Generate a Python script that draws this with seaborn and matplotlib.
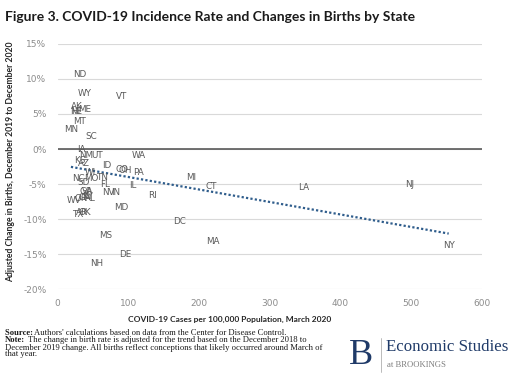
import matplotlib
matplotlib.use("Agg")
import matplotlib.pyplot as plt
import seaborn as sns
import numpy as np
import pandas as pd
from matplotlib.ticker import FuncFormatter

states = ["ND", "WY", "VT", "AK", "ME", "NE", "HI", "MT", "MN", "SC",
          "IA", "NM", "UT", "WA", "KS", "AZ", "ID", "CO", "OH", "PA",
          "WI", "NC", "MO", "TN", "SD", "FL", "IL", "GA", "VA", "NV",
          "IN", "RI", "WV", "OR", "CA", "KY", "AL", "TX", "AR", "OK",
          "MD", "MS", "DC", "MA", "DE", "NH", "MI", "CT", "LA", "NJ", "NY"]
cases = [31.5, 38.5, 91, 27.7, 38.5, 26, 25, 31.5, 18.8, 47,
         34, 40.5, 56.5, 115, 31.5, 37, 69, 91, 95, 114,
         45.6, 30, 48, 62, 37, 67, 106, 40, 43, 71.5,
         82, 134, 23, 33, 38, 43, 47, 28.3, 34, 38.5,
         90.4, 67.8, 172.7, 219.8, 96, 55, 189, 217.5, 348, 497.6, 553]
births = [10.7, 7.9, 7.5, 6.1, 5.7, 5.4, 5.3, 4.0, 2.8, 1.8,
          -0.1, -0.9, -0.9, -0.95, -1.7, -2.1, -2.3, -2.9, -3.0, -3.4,
          -3.3, -4.2, -4.2, -4.0, -4.8, -5.1, -5.2, -6.1, -6.0, -6.2,
          -6.2, -6.7, -7.4, -7.0, -6.9, -6.8, -7.0, -9.4, -9.1, -9.0,
          -8.4, -12.3, -10.3, -13.2, -15.1, -16.3, -4.0, -5.4, -5.5, -5.0, -13.8]

df = pd.DataFrame({"state": states, "cases": cases, "births": births})

sns.set_theme(style="white")
plt.rcParams['font.family'] = ['DejaVu Sans']

fig = plt.figure(figsize=(5.10, 3.82), dpi=100)
ax = fig.add_axes([0.113, 0.243, 0.832, 0.642])

sns.regplot(data=df, x="cases", y="births", scatter=False, ci=None, ax=ax,
            line_kws=dict(linestyle=(0, (1, 1)), color="#2f5d8c", lw=1.6))

for s, xv, yv in zip(states, cases, births):
    ax.text(xv, yv, s, ha="center", va="center", fontsize=6.3, color="#595959")

ax.set_xlim(0, 600)
ax.set_ylim(-20, 15)
ax.set_yticks(np.arange(-20, 16, 5))
ax.set_xticks(np.arange(0, 601, 100))
ax.yaxis.set_major_formatter(FuncFormatter(lambda v, p: f"{int(v)}%"))
for sp in ax.spines.values():
    sp.set_visible(False)
ax.grid(axis="y", color="#d9d9d9", lw=0.8)
ax.grid(axis="x", visible=False)
ax.axhline(0, color="#595959", lw=1.2, zorder=1)
ax.tick_params(axis="x", labelsize=6.5, labelcolor="#8c8c8c", length=0, pad=7)
ax.tick_params(axis="y", labelsize=6.5, labelcolor="#8c8c8c", length=0, pad=8)
lab = ["Lato", "DejaVu Sans"]
ax.set_xlabel("COVID-19 Cases per 100,000 Population, March 2020",
              fontsize=6.0, fontweight="bold", color="#262626", labelpad=6, family=lab,
              x=0.406)
ax.set_ylabel("Adjusted Change in Births, December 2019 to December 2020",
              fontsize=6.2, fontweight="bold", color="#262626", labelpad=6, family=lab,
              y=0.52)

fig.text(0.01, 0.955, "Figure 3. COVID-19 Incidence Rate and Changes in Births by State",
         fontsize=10, fontweight="bold", color="#1a1a1a", va="center",
         family=["Lato", "DejaVu Sans"])

serif = ["Liberation Serif", "DejaVu Serif"]
fs = 6.2
ys = [1 - 333/382, 1 - 340.5/382, 1 - 347.5/382, 1 - 354.5/382]
fig.text(0.01, ys[0], "Source: ", fontsize=fs, fontweight="bold", family=serif, va="center", color="#1a1a1a")
fig.text(0.067, ys[0], "Authors' calculations based on data from the Center for Disease Control.",
         fontsize=fs, family=serif, va="center", color="#1a1a1a")
fig.text(0.01, ys[1], "Note:", fontsize=fs, fontweight="bold", family=serif, va="center", color="#1a1a1a")
fig.text(0.054, ys[1], "The change in birth rate is adjusted for the trend based on the December 2018 to",
         fontsize=fs, family=serif, va="center", color="#1a1a1a")
fig.text(0.01, ys[2], "December 2019 change. All births reflect conceptions that likely occurred around March of",
         fontsize=fs, family=serif, va="center", color="#1a1a1a")
fig.text(0.01, ys[3], "that year.", fontsize=fs, family=serif, va="center", color="#1a1a1a")

navy = "#1f3a68"
fig.text(0.684, 1 - 355/382, "B", fontsize=26, family=serif, color=navy, va="center")
fig.add_artist(plt.Line2D([0.748, 0.748], [1 - 338/382, 1 - 372/382], color="#b0b0b0", lw=0.6))
fig.text(0.757, 1 - 347/382, "Economic Studies", fontsize=12.2, family=serif, color=navy, va="center")
fig.text(0.759, 1 - 365/382, "at BROOKINGS", fontsize=6.2, family=serif, color="#7f7f7f", va="center")

fig.savefig("out.png", dpi=100, facecolor="white")
